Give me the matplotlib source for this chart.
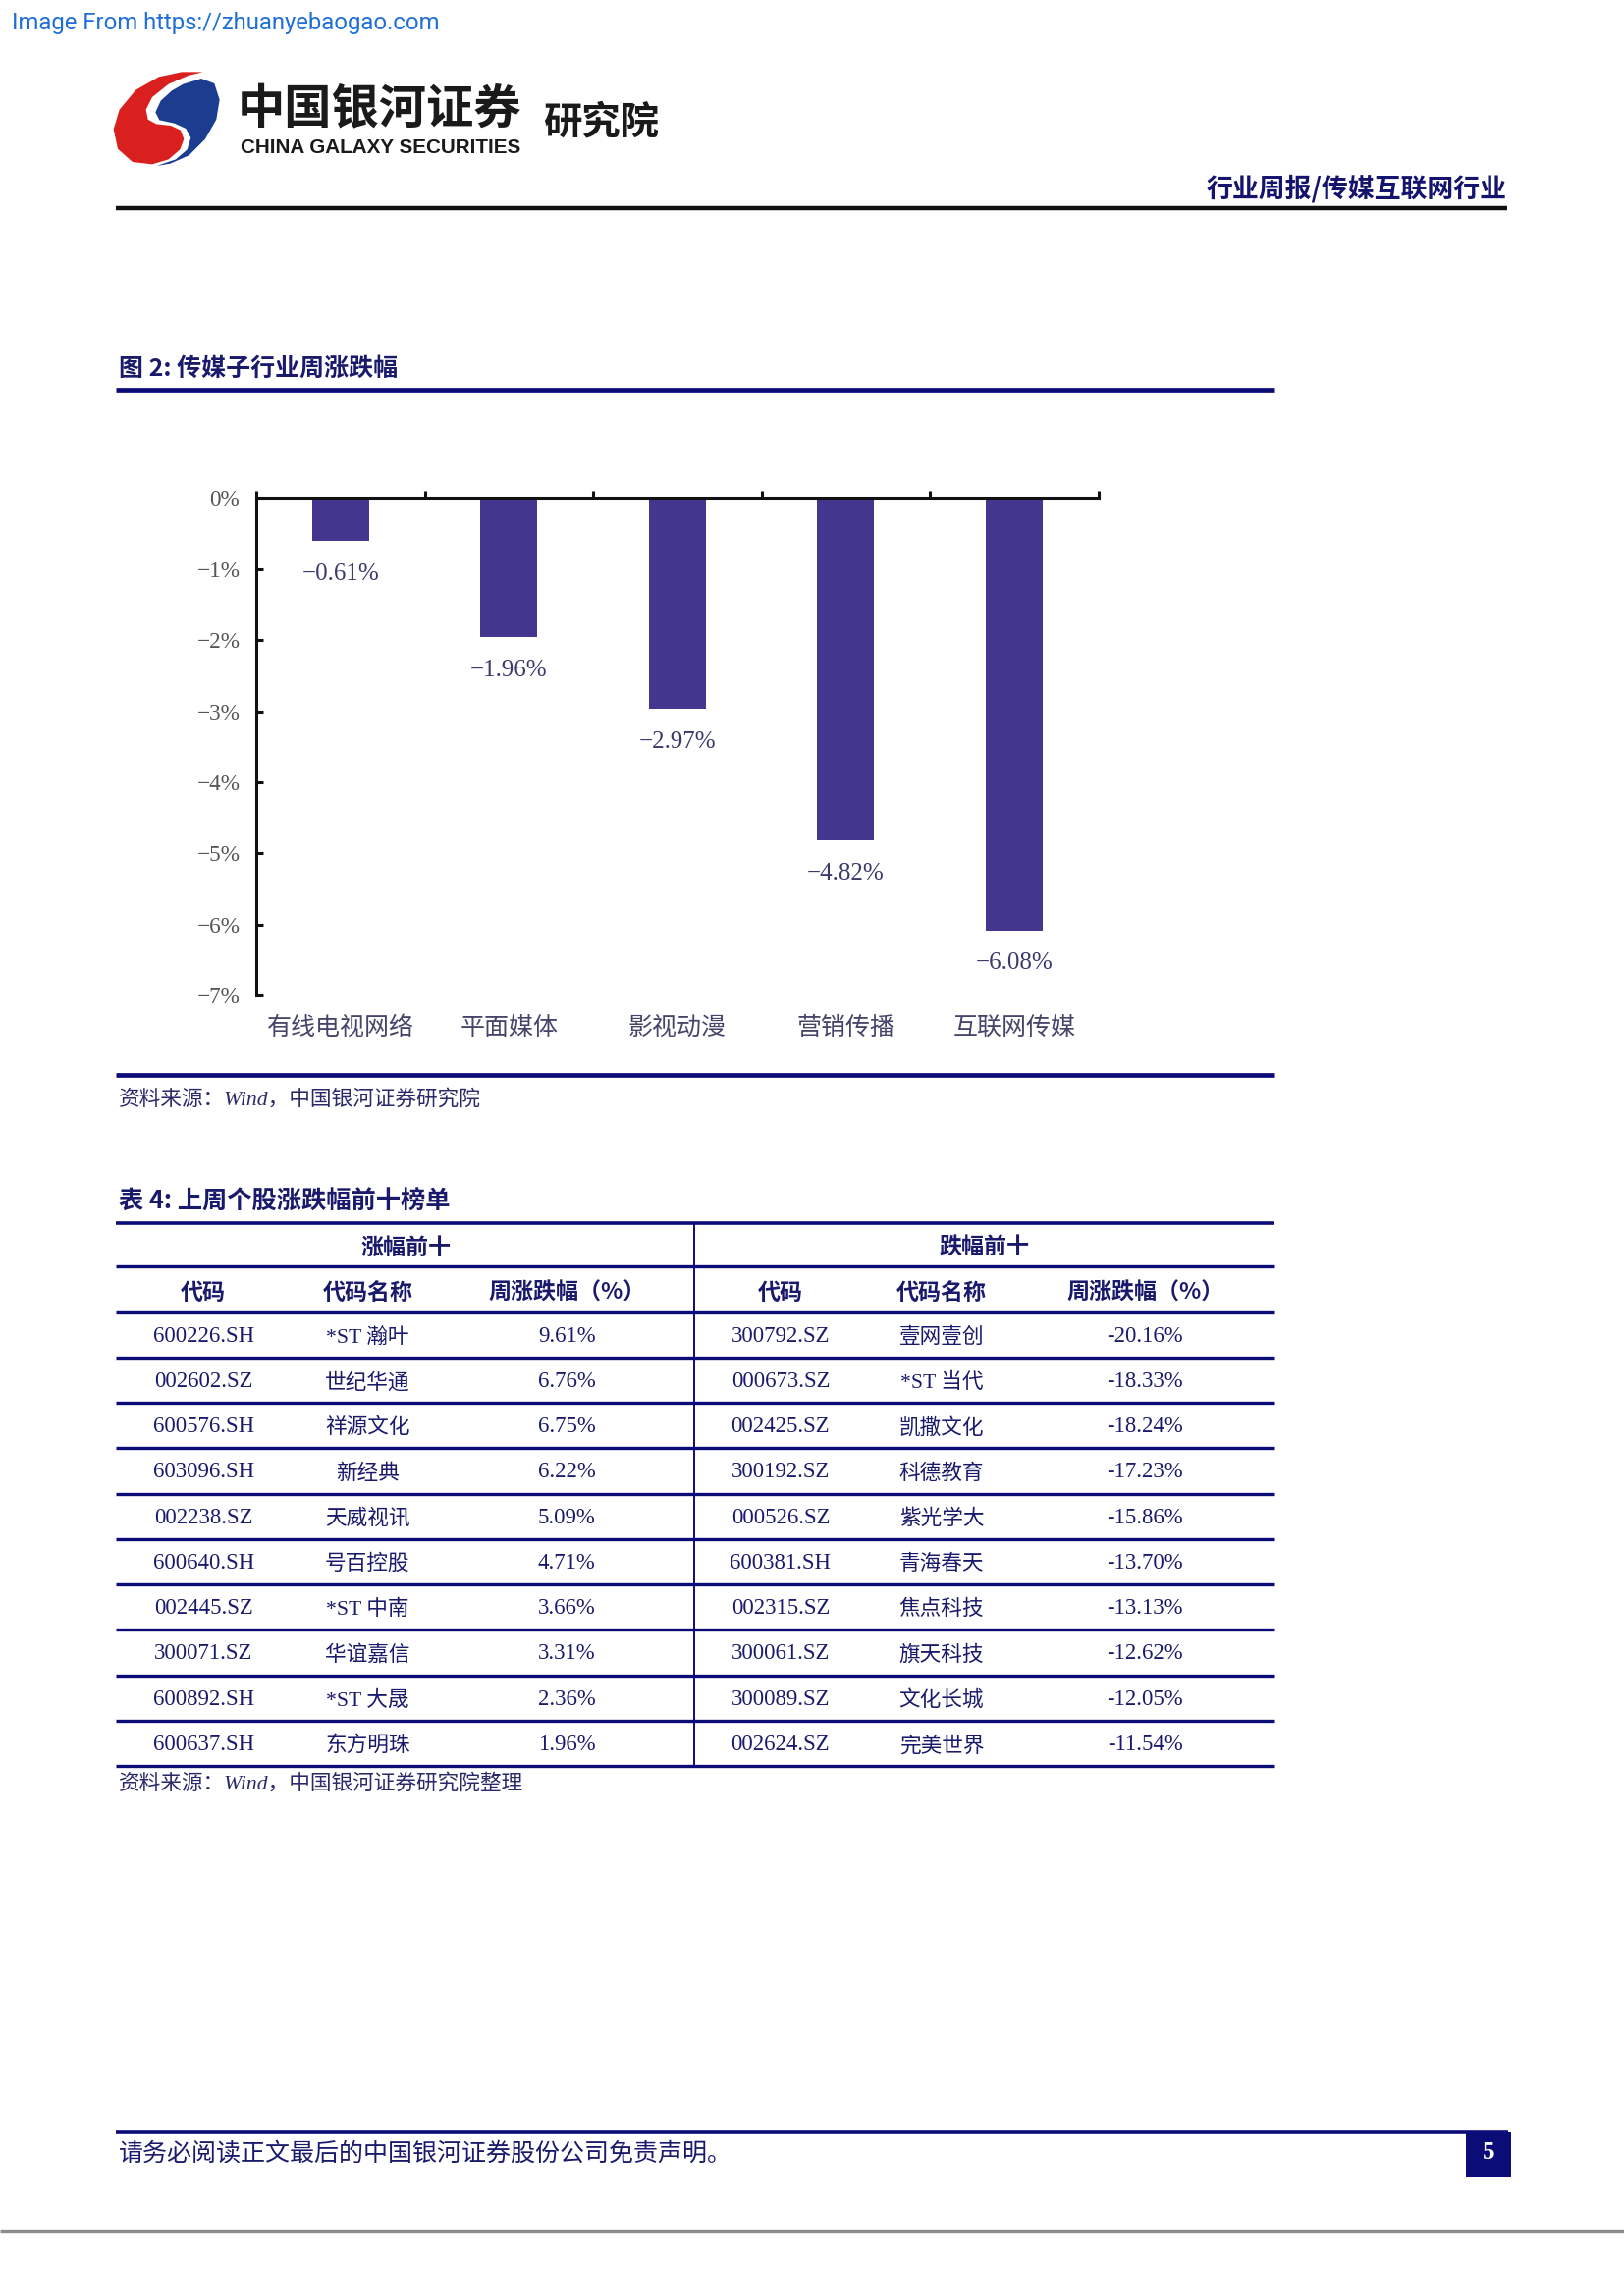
import matplotlib
matplotlib.use('Agg')
import matplotlib.pyplot as plt
from matplotlib.patches import Polygon, Rectangle

plt.rcParams['font.family'] = ['Noto Sans CJK SC', 'DejaVu Sans']

# chart data
cats = ['有线电视网络', '平面媒体', '影视动漫', '营销传播', '互联网传媒']
chg = [-0.61, -1.96, -2.97, -4.82, -6.08]
yticks = [0, -1, -2, -3, -4, -5, -6, -7]

# table data
up_code = ['600226.SH', '002602.SZ', '600576.SH', '603096.SH', '002238.SZ',
           '600640.SH', '002445.SZ', '300071.SZ', '600892.SH', '600637.SH']
up_name = ['*ST 瀚叶', '世纪华通', '祥源文化', '新经典', '天威视讯',
           '号百控股', '*ST 中南', '华谊嘉信', '*ST 大晟', '东方明珠']
up_pct = ['9.61%', '6.76%', '6.75%', '6.22%', '5.09%',
          '4.71%', '3.66%', '3.31%', '2.36%', '1.96%']
dn_code = ['300792.SZ', '000673.SZ', '002425.SZ', '300192.SZ', '000526.SZ',
           '600381.SH', '002315.SZ', '300061.SZ', '300089.SZ', '002624.SZ']
dn_name = ['壹网壹创', '*ST 当代', '凯撒文化', '科德教育', '紫光学大',
           '青海春天', '焦点科技', '旗天科技', '文化长城', '完美世界']
dn_pct = ['-20.16%', '-18.33%', '-18.24%', '-17.23%', '-15.86%',
          '-13.70%', '-13.13%', '-12.62%', '-12.05%', '-11.54%']
col_heads = ['代码', '代码名称', '周涨跌幅（%）']

NAVY = '#0c0c78'
TXT = '#1a1a6c'
SERIF = ['Liberation Serif', 'Noto Sans CJK SC']
DY = 2   # CJK glyph boxes sit a bit high, nudge down

W, H = 1109, 1568          # layout units (page drawn at reduced scale)
S = 1654 / W

fig = plt.figure(figsize=(1654 / 200, 2339 / 200), dpi=200)
page = fig.add_axes([0, 0, 1, 1])
page.set_xlim(0, W)
page.set_ylim(H, 0)
page.axis('off')


def hline(y, x0, x1, lw, color=NAVY):
    page.plot([x0, x1], [y, y], color=color, lw=lw, solid_capstyle='butt')


# watermark + header
page.text(8, 16, 'Image From https://zhuanyebaogao.com', family='Roboto',
          fontsize=8.6, color='#1f6fd6', va='center', ha='left')

red_pts = [(305, 25), (240, 25), (170, 40), (100, 80), (50, 140), (32, 200),
           (45, 260), (90, 300), (150, 307), (200, 292), (235, 262), (247, 230),
           (237, 203), (207, 189), (162, 184), (137, 170), (131, 140),
           (150, 102), (200, 62), (260, 36)]
blue_pts = [(245, 62), (300, 45), (340, 60), (356, 110), (346, 170), (312, 230),
            (262, 280), (205, 305), (163, 312), (222, 292), (257, 262),
            (268, 226), (253, 198), (218, 182), (172, 172), (160, 148),
            (176, 113), (210, 82)]


def logo(pts):
    return [((105 + px / 3) / S, (65 + py / 3) / S) for px, py in pts]


page.add_patch(Polygon(logo(red_pts), closed=True, fc='#d9201f', ec='none'))
page.add_patch(Polygon(logo(blue_pts), closed=True, fc='#1c3d8f', ec='none'))

page.text(162, 73 + DY, '中国银河证券', fontsize=17.4, weight='bold',
          color='#1a1a1a', va='center', ha='left')
page.text(164, 101, 'CHINA GALAXY SECURITIES', family='Liberation Sans',
          fontsize=7.45, weight='bold', color='#1a1a1a', va='center', ha='left')
page.text(371, 82 + DY, '研究院', fontsize=14.2, weight='bold', color='#1a1a1a',
          va='center', ha='left')
page.text(1029, 127 + DY, '行业周报/传媒互联网行业', fontsize=9.7, weight='bold',
          color='#14146e', va='center', ha='right')
hline(142, 79, 1029, 1.6, color='#111111')

# figure block
page.text(81, 250 + DY, '图 2: 传媒子行业周涨跌幅', fontsize=9, weight='bold',
          color=TXT, va='center', ha='left')
hline(266, 79, 870, 1.7)
hline(734, 79, 870, 1.7)
page.text(81, 749 + DY, '资料来源：Wind，中国银河证券研究院', family=SERIF,
          style='italic', fontsize=7.8, color='#2a2a6a', va='center', ha='left')

ax = fig.add_axes([175 / W, 1 - 680 / H, 575 / W, 340 / H])
x = list(range(len(cats)))
ax.bar(x, chg, width=0.34, color='#42368f', zorder=2)
ax.set_xlim(-0.5, len(cats) - 0.5)
ax.set_ylim(-7, 0)
for side in ['bottom', 'right']:
    ax.spines[side].set_visible(False)
for side in ['top', 'left']:
    ax.spines[side].set_linewidth(1.1)
    ax.spines[side].set_color('#111111')
ax.xaxis.set_ticks_position('top')
ax.set_xticks([i - 0.5 for i in range(len(cats) + 1)])
ax.tick_params(axis='x', direction='out', length=2.4, width=1.1,
               labeltop=False, labelbottom=False, color='#111111')
ax.set_yticks(yticks)
ax.set_yticklabels([f'{v}%'.replace('-', '\u2212') for v in yticks],
                   family='Liberation Serif', fontsize=8.4, color='#555555')
ax.tick_params(axis='y', direction='in', length=2.4, width=1.1, pad=6,
               color='#111111')
for i, (c, v) in enumerate(zip(cats, chg)):
    ax.annotate(f'{v:.2f}%'.replace('-', '\u2212'), (i, v), xytext=(0, -12),
                textcoords='offset points', ha='center', va='center',
                family='Liberation Serif', fontsize=9, color='#3a3a6c')
    ax.annotate(c, (i, -7), xytext=(0, -11.6), textcoords='offset points',
                ha='center', va='center', fontsize=9, color='#45456a')

# table block
page.text(81, 819 + DY, '表 4: 上周个股涨跌幅前十榜单', fontsize=9.1,
          weight='bold', color=TXT, va='center', ha='left')
top, grp, sub, row_h = 835, 865, 896, 31
n = len(up_code)
bottom = sub + row_h * n
hline(top, 79, 870, 1.3)
hline(grp, 79, 870, 1.2)
hline(sub, 79, 870, 1.2)
for i in range(n):
    hline(sub + row_h * (i + 1), 79, 870, 1.2)
page.plot([474, 474], [top, bottom], color=NAVY, lw=0.7)

page.text(277, 850 + DY, '涨幅前十', fontsize=8.3, weight='bold', color=TXT,
          va='center', ha='center')
page.text(672, 850 + DY, '跌幅前十', fontsize=8.3, weight='bold', color=TXT,
          va='center', ha='center')
left_cols = [139, 251, 387]
right_cols = [533, 643, 782]
for cols in (left_cols, right_cols):
    for cx, h in zip(cols, col_heads):
        page.text(cx, 881 + DY, h, fontsize=8.3, weight='bold', color=TXT,
                  va='center', ha='center')

for i in range(n):
    yc = sub + row_h * (i + 0.5) + 1
    for cols, vals in ((left_cols, (up_code[i], up_name[i], up_pct[i])),
                       (right_cols, (dn_code[i], dn_name[i], dn_pct[i]))):
        page.text(cols[0], yc, vals[0], family='Liberation Serif', fontsize=8.2,
                  color=TXT, va='center', ha='center')
        page.text(cols[1], yc + 1, vals[1], family=SERIF, fontsize=7.8,
                  color=TXT, va='center', ha='center')
        page.text(cols[2], yc, vals[2], family='Liberation Serif', fontsize=8.2,
                  color=TXT, va='center', ha='center')

page.text(81, 1216 + DY, '资料来源：Wind，中国银河证券研究院整理', family=SERIF,
          style='italic', fontsize=7.8, color='#2a2a6a', va='center', ha='left')

# footer
hline(1456, 79, 1030, 1.3)
page.text(81, 1469 + DY, '请务必阅读正文最后的中国银河证券股份公司免责声明。',
          fontsize=9, color=TXT, va='center', ha='left')
page.add_patch(Rectangle((1001, 1456), 31, 31, fc='#0c0c78', ec='none'))
page.text(1016.5, 1470, '5', family='Liberation Serif', fontsize=9,
          weight='bold', color='white', va='center', ha='center')
hline(1524, 0, W, 1.2, color='#8c8c8c')

fig.savefig('out.png', dpi=200)
